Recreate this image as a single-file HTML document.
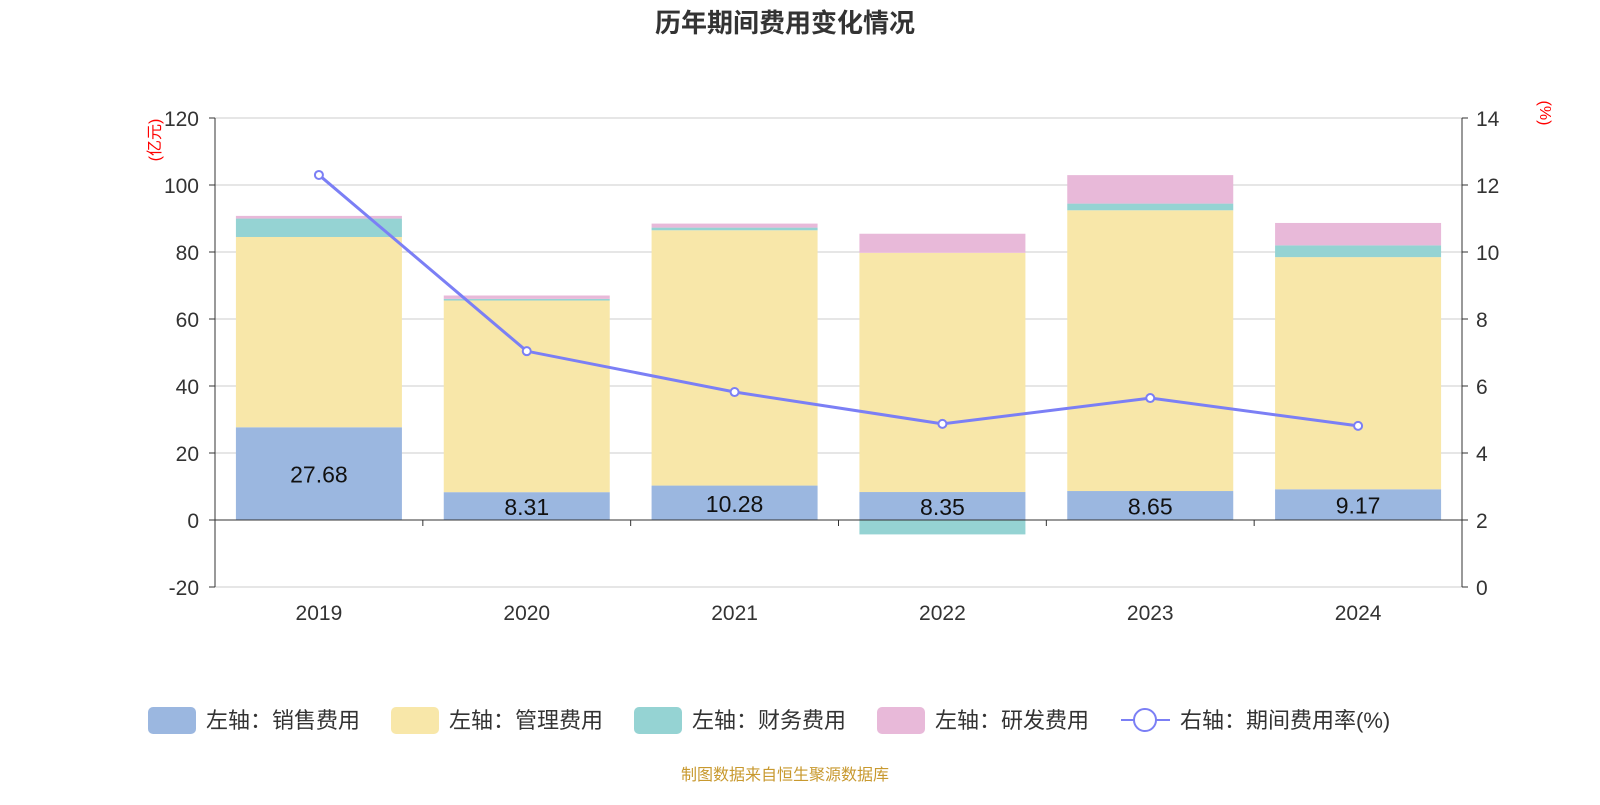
<!DOCTYPE html>
<html><head><meta charset="utf-8">
<style>
body{margin:0;background:#fff;font-family:"Liberation Sans","Noto Sans CJK SC",sans-serif;}
svg text{font-family:"Liberation Sans","Noto Sans CJK SC",sans-serif;}
</style></head>
<body>
<svg id="c" width="1600" height="800"></svg>
<script>
const categories=["2019","2020","2021","2022","2023","2024"];
const sales=[27.68,8.31,10.28,8.35,8.65,9.17];
const mgmt=[56.8,57.2,76.2,71.4,83.8,69.3];
const finance=[5.5,0.5,0.8,-4.3,2.0,3.5];
const rnd=[0.8,1.0,1.2,5.7,8.5,6.7];
const rate=[12.3,7.04,5.82,4.87,5.64,4.81];
const leftTicks=[-20,0,20,40,60,80,100,120];
const rightTicks=[0,2,4,6,8,10,12,14];

const NS="http://www.w3.org/2000/svg";
const svg=document.getElementById('c');
function el(t,a,txt){const e=document.createElementNS(NS,t);for(const k in a)e.setAttribute(k,a[k]);if(txt!==undefined)e.textContent=txt;svg.appendChild(e);return e;}
const X0=215,X1=1462,Y0=118,Y1=587;
const yL=v=>Y1-(v+20)/140*(Y1-Y0);
const yR=v=>Y1-v/14*(Y1-Y0);
const band=(X1-X0)/categories.length;
const xc=i=>X0+band*(i+0.5);
const bw=166;

let t=el('text',{x:785,y:32,'text-anchor':'middle','font-size':26,'font-weight':'bold',fill:'#333'},'历年期间费用变化情况');


leftTicks.forEach(v=>{
  const g=el('line',{x1:X0,x2:X1,y1:yL(v),y2:yL(v),stroke:'#ccc','stroke-width':1});
  
  const l=el('text',{x:X0-16,y:yL(v)+8,'text-anchor':'end','font-size':21,fill:'#333'},v);
  
  el('line',{x1:X0-6,x2:X0,y1:yL(v),y2:yL(v),stroke:'#333'});
});
rightTicks.forEach(v=>{
  const l=el('text',{x:X1+14,y:yR(v)+8,'font-size':21,fill:'#333'},v);
  
  el('line',{x1:X1,x2:X1+6,y1:yR(v),y2:yR(v),stroke:'#333'});
});
el('line',{x1:X0,x2:X0,y1:Y0,y2:Y1,stroke:'#333'});
el('line',{x1:X1,x2:X1,y1:Y0,y2:Y1,stroke:'#333'});
let u=el('text',{x:160,y:140,'font-size':16,fill:'red','text-anchor':'middle',transform:'rotate(-90 160 140)'},'(亿元)');

u=el('text',{x:1540,y:113,'font-size':16,fill:'red','text-anchor':'middle',transform:'rotate(90 1540 113)'},'(%)');


const colors=['#9bb7e0','#f8e7a9','#95d3d3','#e8b9d9'];
categories.forEach((c,i)=>{
  let pos=0,neg=0;
  [sales,mgmt,finance,rnd].forEach((s,k)=>{
    const v=s[i];let a,b;
    if(v>=0){a=pos;b=pos+v;pos=b;}else{a=neg;b=neg+v;neg=b;}
    const r=el('rect',{x:xc(i)-bw/2,y:Math.min(yL(a),yL(b)),width:bw,height:Math.abs(yL(a)-yL(b)),fill:colors[k]});
    
    
  });
  const lb=el('text',{x:xc(i),y:(yL(0)+yL(sales[i]))/2+9,'text-anchor':'middle','font-size':23,fill:'#111'},sales[i].toFixed(2));
  
  const xl=el('text',{x:xc(i),y:620,'text-anchor':'middle','font-size':21,fill:'#333'},c);
  
  el('line',{x1:X0+band*(i+1),x2:X0+band*(i+1),y1:yL(0),y2:yL(0)+6,stroke:'#333'});
});
el('line',{x1:X0,x2:X1,y1:yL(0),y2:yL(0),stroke:'#333'});

const pts=rate.map((v,i)=>xc(i)+','+yR(v)).join(' ');
const pl=el('polyline',{points:pts,fill:'none',stroke:'#7b7ff5','stroke-width':3});

rate.forEach((v,i)=>{
  const p=el('circle',{cx:xc(i),cy:yR(v),r:4,fill:'#fff',stroke:'#7b7ff5','stroke-width':2});
  
});

const leg=[['左轴：销售费用',0,148],['左轴：管理费用',1,391],['左轴：财务费用',2,634],['左轴：研发费用',3,877]];
leg.forEach(([txt,k,x])=>{
  const r=el('rect',{x:x,y:707,width:48,height:27,rx:5,fill:colors[k]});
  
  const l=el('text',{x:x+58,y:728,'font-size':22,fill:'#333'},txt);
  
});
el('line',{x1:1121,x2:1170,y1:720,y2:720,stroke:'#7b7ff5','stroke-width':2});
el('circle',{cx:1145,cy:720,r:11,fill:'#fff',stroke:'#7b7ff5','stroke-width':2});
let lr=el('text',{x:1180,y:728,'font-size':22,fill:'#333'},'右轴：期间费用率(%)');


let f=el('text',{x:785,y:780,'text-anchor':'middle','font-size':16,fill:'#c8992f'},'制图数据来自恒生聚源数据库');

</script>
</body></html>
